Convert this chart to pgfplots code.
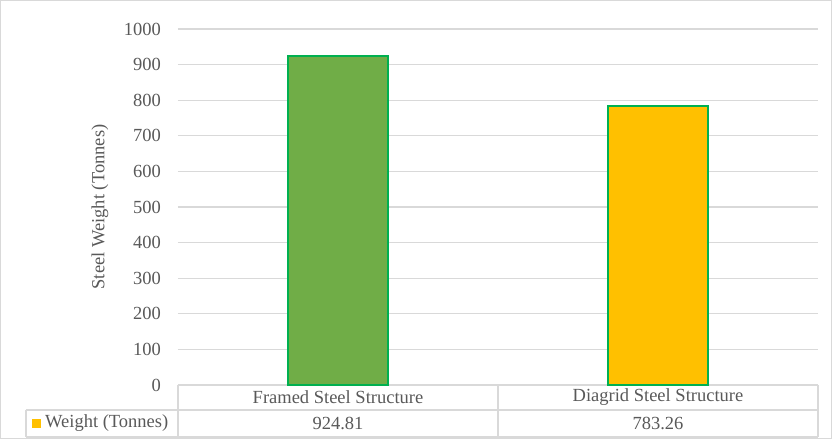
\documentclass[border=0pt]{standalone}
\usepackage{fontspec}
\setmainfont{Liberation Serif}
\usepackage{pgfplots}
\pgfplotsset{compat=1.18}
\definecolor{txt}{HTML}{595959}
\definecolor{gridc}{HTML}{D9D9D9}
\definecolor{barg}{HTML}{70AD47}
\definecolor{bary}{HTML}{FFC000}
\definecolor{edge}{HTML}{00B050}
\newcommand\ff{\fontsize{18.5}{22}\selectfont}
\begin{document}
\ff
\begin{tikzpicture}[x=1pt,y=1pt]
\useasboundingbox (-178,-54) rectangle (654,385);
\draw[gridc, line width=1.2pt] (-177.4,-53.4) rectangle (653.4,384.4);
\begin{axis}[at={(0,0)}, anchor=south west, scale only axis,
  width=640pt, height=356pt,
  xmin=-0.5, xmax=1.5, ymin=0, ymax=1000,
  ytick={0,100,...,1000}, xtick=\empty,
  axis lines*=left,
  y axis line style={draw=none},
  x axis line style={draw=gridc, line width=1.2pt},
  major tick length=0pt,
  ymajorgrids, grid style={draw=gridc, line width=1.2pt},
  /pgf/number format/assume math mode=true,
  /pgf/number format/1000 sep={},
  tick label style={font=\ff, text=txt},
  yticklabel style={inner sep=0pt, anchor=east, xshift=-17pt},
  ylabel={Steel Weight (Tonnes)},
  ylabel style={font=\ff, text=txt, at={(axis description cs:-0.122,0.5)}, anchor=center},
  clip=false]
\addplot[ybar, bar shift=0pt, bar width=100pt, fill=barg, draw=edge, line width=2.2pt] coordinates {(0,924.81)};
\addplot[ybar, bar shift=0pt, bar width=100pt, fill=bary, draw=edge, line width=2.2pt] coordinates {(1,783.26)};
\end{axis}
\draw[gridc, line width=1.2pt] (-152,-25) -- (640,-25);
\draw[gridc, line width=1.2pt] (-152,-52) -- (640,-52);
\draw[gridc, line width=1.2pt] (-152,-25) -- (-152,-52);
\draw[gridc, line width=1.2pt] (0,0) -- (0,-52);
\draw[gridc, line width=1.2pt] (320,0) -- (320,-52);
\draw[gridc, line width=1.2pt] (640,0) -- (640,-52);
\node[txt, font=\ff] at (160,-12.5) {Framed Steel Structure};
\node[txt, font=\ff] at (480,-12.5) {Diagrid Steel Structure};
\node[txt, font=\ff] at (160,-38.5) {924.81};
\node[txt, font=\ff] at (480,-38.5) {783.26};
\fill[bary] (-146,-43) rectangle (-137,-34);
\node[txt, font=\ff, anchor=west, inner sep=0pt] at (-133,-38.5) {Weight (Tonnes)};
\end{tikzpicture}
\end{document}
